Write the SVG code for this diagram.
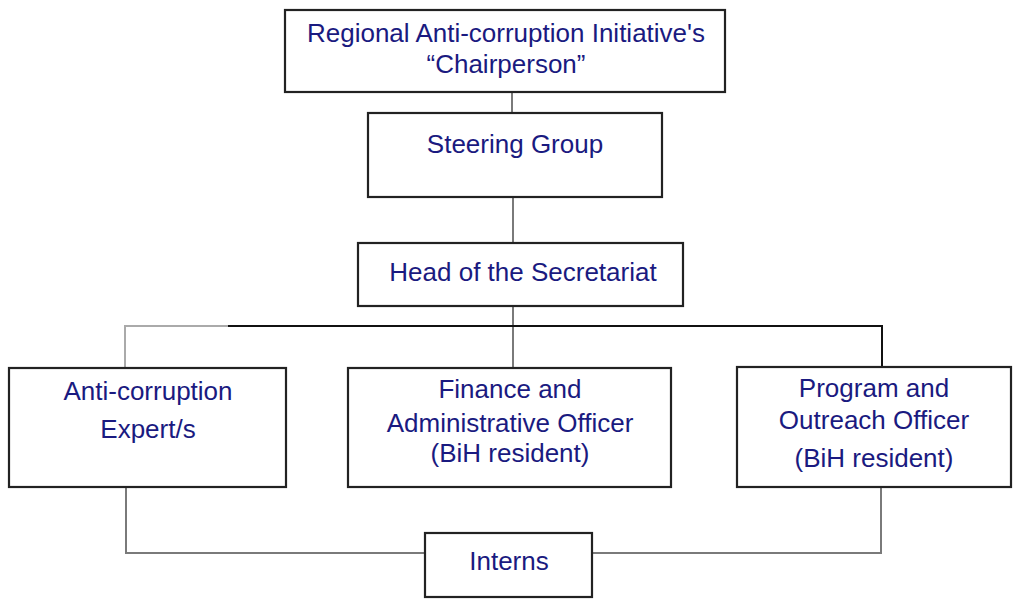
<svg xmlns="http://www.w3.org/2000/svg" width="1013" height="602" viewBox="0 0 1013 602">
<style>
.box{fill:#fff;stroke:#222;stroke-width:2.2}
.t{font-family:"Liberation Sans",Arial,sans-serif;font-size:26px;fill:#1a1a80;text-anchor:middle}
.ln{fill:none;stroke-width:2}
.g{stroke:#7a7a7a}
.lg{stroke:#aaa}
.k{stroke:#111}
</style>
<rect width="1013" height="602" fill="#fff"/>
<g id="connectors">
<line class="ln g" x1="512" y1="92" x2="512" y2="113"/>
<line class="ln g" x1="513" y1="197" x2="513" y2="243"/>
<line class="ln g" x1="513" y1="306" x2="513" y2="368"/>
<polyline class="ln lg" points="125,368 125,326 228,326"/>
<polyline class="ln k" points="228,326 882,326 882,367"/>
<polyline class="ln g" points="126,487 126,553 425,553"/>
<polyline class="ln g" points="592,553 881,553 881,487"/>
</g>
<g id="chair">
<rect class="box" x="285" y="10" width="440" height="82"/>
<text class="t" x="506" y="42">Regional Anti-corruption Initiative's</text>
<text class="t" x="506" y="73">“Chairperson”</text>
</g>
<g id="steering">
<rect class="box" x="368" y="113" width="294" height="84"/>
<text class="t" x="515" y="153">Steering Group</text>
</g>
<g id="head">
<rect class="box" x="358" y="243" width="325" height="63"/>
<text class="t" x="523" y="281">Head of the Secretariat</text>
</g>
<g id="expert">
<rect class="box" x="9" y="368" width="277" height="119"/>
<text class="t" x="148" y="400">Anti-corruption</text>
<text class="t" x="148" y="438">Expert/s</text>
</g>
<g id="finance">
<rect class="box" x="348" y="368" width="323" height="119"/>
<text class="t" x="510" y="398">Finance and</text>
<text class="t" x="510" y="432">Administrative Officer</text>
<text class="t" x="510" y="462">(BiH resident)</text>
</g>
<g id="program">
<rect class="box" x="737" y="367" width="274" height="120"/>
<text class="t" x="874" y="397">Program and</text>
<text class="t" x="874" y="429">Outreach Officer</text>
<text class="t" x="874" y="467">(BiH resident)</text>
</g>
<g id="interns">
<rect class="box" x="425" y="533" width="167" height="64"/>
<text class="t" x="509" y="570">Interns</text>
</g>
</svg>
